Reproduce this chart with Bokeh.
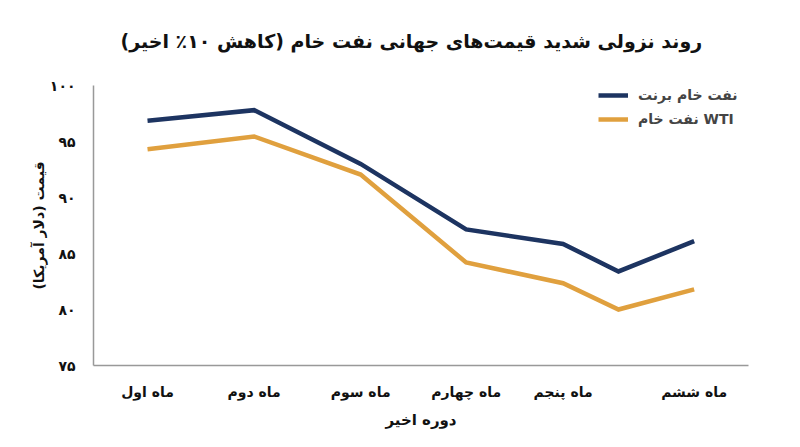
from bokeh.plotting import figure
from bokeh.models import FixedTicker, Range1d, Legend, LegendItem, Title
from bokeh.embed import file_html
from bokeh.resources import INLINE

# data
x_pos = [0, 1, 2, 2.99, 3.9, 4.42, 5.13]
brent = [96.85, 97.8, 93.0, 87.15, 85.85, 83.4, 86.1]
wti = [94.3, 95.45, 92.05, 84.2, 82.35, 80.0, 81.8]
month_ticks = [0, 1, 2, 2.99, 3.9, 5.13]
month_labels = ["ماه اول", "ماه دوم", "ماه سوم", "ماه چهارم", "ماه پنجم", "ماه ششم"]
y_ticks = [75, 80, 85, 90, 95, 100]
y_labels = ["۷۵", "۸۰", "۸۵", "۹۰", "۹۵", "۱۰۰"]
series_names = ["نفت خام برنت", "نفت خام WTI"]
title_text = "روند نزولی شدید قیمت‌های جهانی نفت خام (کاهش ۱۰٪ اخیر)"
x_title = "دوره اخیر"
y_title = "قیمت (دلار آمریکا)"

FONT = "DejaVu Sans"

p = figure(width=784, height=431, output_backend="svg", toolbar_location=None, title=None,
           x_range=Range1d(-0.507, 5.64), y_range=Range1d(75, 100),
           min_border_left=93, min_border_right=36, min_border_top=85, min_border_bottom=60)

# spacer between frame and title, then the title itself
p.add_layout(Title(text=" ", text_font_size="15px"), "above")
p.add_layout(Title(text=title_text, align="left", offset=27, text_font=FONT,
                   text_font_size="19px", text_font_style="bold", text_color="#111111"), "above")

p.outline_line_color = None
p.xgrid.grid_line_color = None
p.ygrid.grid_line_color = None

r1 = p.line(x_pos, brent, line_color="#1d3461", line_width=4.5, line_join="miter")
r2 = p.line(x_pos, wti, line_color="#e0a03e", line_width=4.5, line_join="miter")

legend = Legend(items=[LegendItem(label=series_names[0], renderers=[r1]),
                       LegendItem(label=series_names[1], renderers=[r2])],
                location=(505, 236), border_line_color=None, background_fill_alpha=0,
                label_text_font=FONT, label_text_font_style="bold", label_text_font_size="14px",
                glyph_width=30, spacing=4, margin=0, padding=6, label_standoff=10)
p.add_layout(legend)

for ax in (p.xaxis[0], p.yaxis[0]):
    ax.axis_line_color = "#999999"
    ax.axis_line_width = 1.5
    ax.major_tick_line_color = None
    ax.minor_tick_line_color = None
    ax.major_label_text_font = FONT
    ax.major_label_text_font_style = "bold"
    ax.major_label_text_font_size = "14px"
    ax.major_label_text_color = "#111111"
    ax.axis_label_text_font = FONT
    ax.axis_label_text_font_style = "bold"
    ax.axis_label_text_font_size = "15px"
    ax.axis_label_text_color = "#111111"

p.xaxis.ticker = FixedTicker(ticks=month_ticks)
p.xaxis.major_label_overrides = {t: l for t, l in zip(month_ticks, month_labels)}
p.xaxis.major_label_standoff = 12
p.xaxis.axis_label = x_title
p.xaxis.axis_label_standoff = 8

p.yaxis.ticker = FixedTicker(ticks=y_ticks)
p.yaxis.major_label_overrides = {t: l for t, l in zip(y_ticks, y_labels)}
p.yaxis.major_label_standoff = 12
p.yaxis.axis_label = y_title
p.yaxis.axis_label_text_font_size = "14px"
p.yaxis.axis_label_standoff = 0

open("out.html", "w").write(file_html(p, INLINE))
